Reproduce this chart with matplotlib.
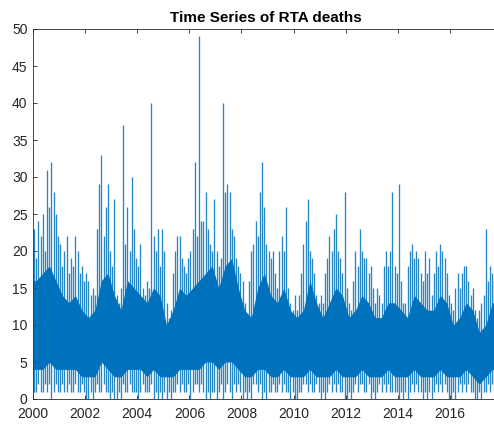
import numpy as np
import matplotlib
matplotlib.use("Agg")
import matplotlib.pyplot as plt

plt.rcParams["font.family"] = ["Liberation Sans", "DejaVu Sans"]

start_year = 2000

# Highest daily count seen in each month (Jan 2000 .. Sep 2017)
monthly_max = [
    23, 19, 24, 22, 25, 20, 31, 26, 32, 28, 25, 22,   # 2000
    21, 18, 20, 22, 17, 19, 18, 22, 20, 17, 18, 16,   # 2001
    17, 16, 14, 15, 14, 23, 29, 33, 22, 26, 29, 20,   # 2002
    18, 27, 14, 13, 15, 37, 21, 26, 20, 30, 23, 19,   # 2003
    18, 21, 15, 14, 16, 15, 40, 22, 20, 23, 18, 23,   # 2004
    20, 13, 11, 12, 17, 20, 22, 22, 19, 18, 17, 19,   # 2005
    20, 23, 32, 22, 49, 24, 24, 28, 23, 21, 20, 27,   # 2006
    20, 18, 19, 40, 28, 29, 28, 23, 22, 19, 18, 17,   # 2007
    16, 13, 11, 16, 20, 21, 24, 22, 28, 32, 26, 21,   # 2008
    20, 19, 20, 17, 15, 20, 22, 20, 26, 15, 13, 12,   # 2009
    14, 12, 14, 17, 21, 24, 27, 20, 19, 17, 14, 13,   # 2010
    14, 13, 17, 19, 22, 20, 23, 25, 20, 19, 17, 28,   # 2011
    15, 13, 12, 16, 20, 18, 23, 20, 19, 19, 17, 18,   # 2012
    15, 13, 15, 14, 13, 18, 20, 18, 20, 28, 18, 17,   # 2013
    29, 16, 13, 13, 18, 20, 21, 19, 20, 19, 17, 16,   # 2014
    20, 17, 19, 14, 17, 20, 18, 21, 20, 19, 17, 14,   # 2015
    13, 12, 15, 17, 15, 17, 18, 18, 16, 14, 15, 12,   # 2016
    11, 12, 13, 14, 23, 16, 18, 17, 16,               # 2017
]

# Lowest daily count seen in each month
monthly_min = [
    1, 1, 2, 1, 1, 2, 1, 2, 0, 1, 2, 1,
    1, 2, 1, 1, 2, 1, 1, 2, 1, 1, 2, 1,
    0, 0, 1, 0, 1, 2, 1, 1, 2, 1, 1, 0,
    1, 0, 0, 1, 0, 2, 1, 1, 2, 1, 1, 1,
    0, 1, 2, 1, 1, 1, 2, 0, 1, 0, 1, 0,
    1, 0, 1, 0, 1, 1, 2, 1, 2, 1, 1, 2,
    0, 1, 2, 2, 1, 2, 1, 0, 1, 0, 1, 1,
    0, 1, 2, 0, 1, 2, 1, 0, 2, 1, 2, 1,
    0, 1, 0, 1, 0, 2, 2, 1, 2, 0, 1, 0,
    1, 1, 2, 1, 1, 2, 1, 2, 1, 1, 0, 1,
    0, 0, 1, 1, 2, 2, 1, 2, 1, 1, 2, 1,
    0, 1, 0, 1, 2, 1, 2, 1, 2, 1, 1, 0,
    0, 1, 0, 1, 2, 1, 2, 2, 1, 1, 2, 0,
    1, 0, 1, 2, 1, 2, 1, 2, 1, 1, 1, 1,
    0, 1, 0, 1, 0, 1, 2, 1, 2, 1, 1, 0,
    1, 0, 1, 0, 1, 2, 1, 2, 1, 2, 1, 0,
    0, 1, 0, 1, 2, 1, 2, 1, 2, 1, 1, 0,
    0, 1, 0, 1, 1, 2, 1, 2, 1,
]

# Range holding most days of each quarter (2000Q1 .. 2017Q3)
quarterly_typical_high = [
    16, 17, 18, 16,
    14, 13, 14, 12,
    11, 12, 16, 17,
    14, 12, 16, 15,
    14, 13, 15, 14,
    10, 12, 15, 14,
    15, 16, 17, 18,
    15, 18, 19, 15,
    12, 11, 15, 17,
    14, 13, 15, 12,
    11, 12, 16, 13,
    11, 13, 15, 14,
    11, 12, 14, 13,
    11, 11, 13, 13,
    12, 11, 14, 13,
    12, 12, 14, 13,
    10, 11, 13, 12,
    9, 10, 13,
]
quarterly_typical_low = [
    4, 4, 5, 4,
    4, 4, 4, 3,
    3, 3, 5, 4,
    3, 3, 4, 4,
    4, 3, 4, 3,
    3, 3, 4, 4,
    4, 4, 5, 5,
    4, 5, 5, 4,
    3, 3, 4, 4,
    3, 3, 4, 3,
    3, 3, 4, 3,
    3, 3, 4, 3,
    3, 3, 4, 3,
    3, 3, 4, 3,
    3, 3, 4, 3,
    3, 3, 4, 3,
    3, 3, 4, 3,
    2, 3, 4,
]

x_ticks = [2000, 2002, 2004, 2006, 2008, 2010, 2012, 2014, 2016]
y_ticks = [0, 5, 10, 15, 20, 25, 30, 35, 40, 45, 50]

line_color = "#0072BD"
axis_color = "#262626"

month_pos = start_year + (np.arange(len(monthly_max)) + 0.5) / 12.0
quarter_pos = start_year + (np.arange(len(quarterly_typical_high)) + 0.5) / 4.0
# extend the band to both ends of the series
band_x = np.concatenate([[start_year], quarter_pos, [month_pos[-1] + 0.2]])
band_hi = [quarterly_typical_high[0]] + quarterly_typical_high + [quarterly_typical_high[-1]]
band_lo = [quarterly_typical_low[0]] + quarterly_typical_low + [quarterly_typical_low[-1]]

fig = plt.figure(figsize=(4.94, 4.26), dpi=100)
ax = fig.add_axes([33 / 494, 27 / 426, 466 / 494, 370 / 426])

ax.fill_between(band_x, band_lo, band_hi, color=line_color, linewidth=0)
ax.vlines(month_pos, monthly_min, monthly_max,
          color=line_color, linewidth=0.95, alpha=0.85)

ax.set_xlim(2000, 2000 + 466 / 26.06)
ax.set_ylim(0, 50)
ax.set_xticks(x_ticks)
ax.set_xticklabels([str(t) for t in x_ticks])
ax.set_yticks(y_ticks)
ax.tick_params(direction="in", length=3, width=0.6, top=True, right=True,
               colors=axis_color, labelsize=10)
ax.tick_params(axis="x", pad=6)
ax.tick_params(axis="y", pad=4)
for s in ax.spines.values():
    s.set_color(axis_color)
    s.set_linewidth(0.6)

ax.set_title("Time Series of RTA deaths", fontsize=11, fontweight="bold",
             color="black", pad=5)

fig.savefig("out.png", dpi=100)
